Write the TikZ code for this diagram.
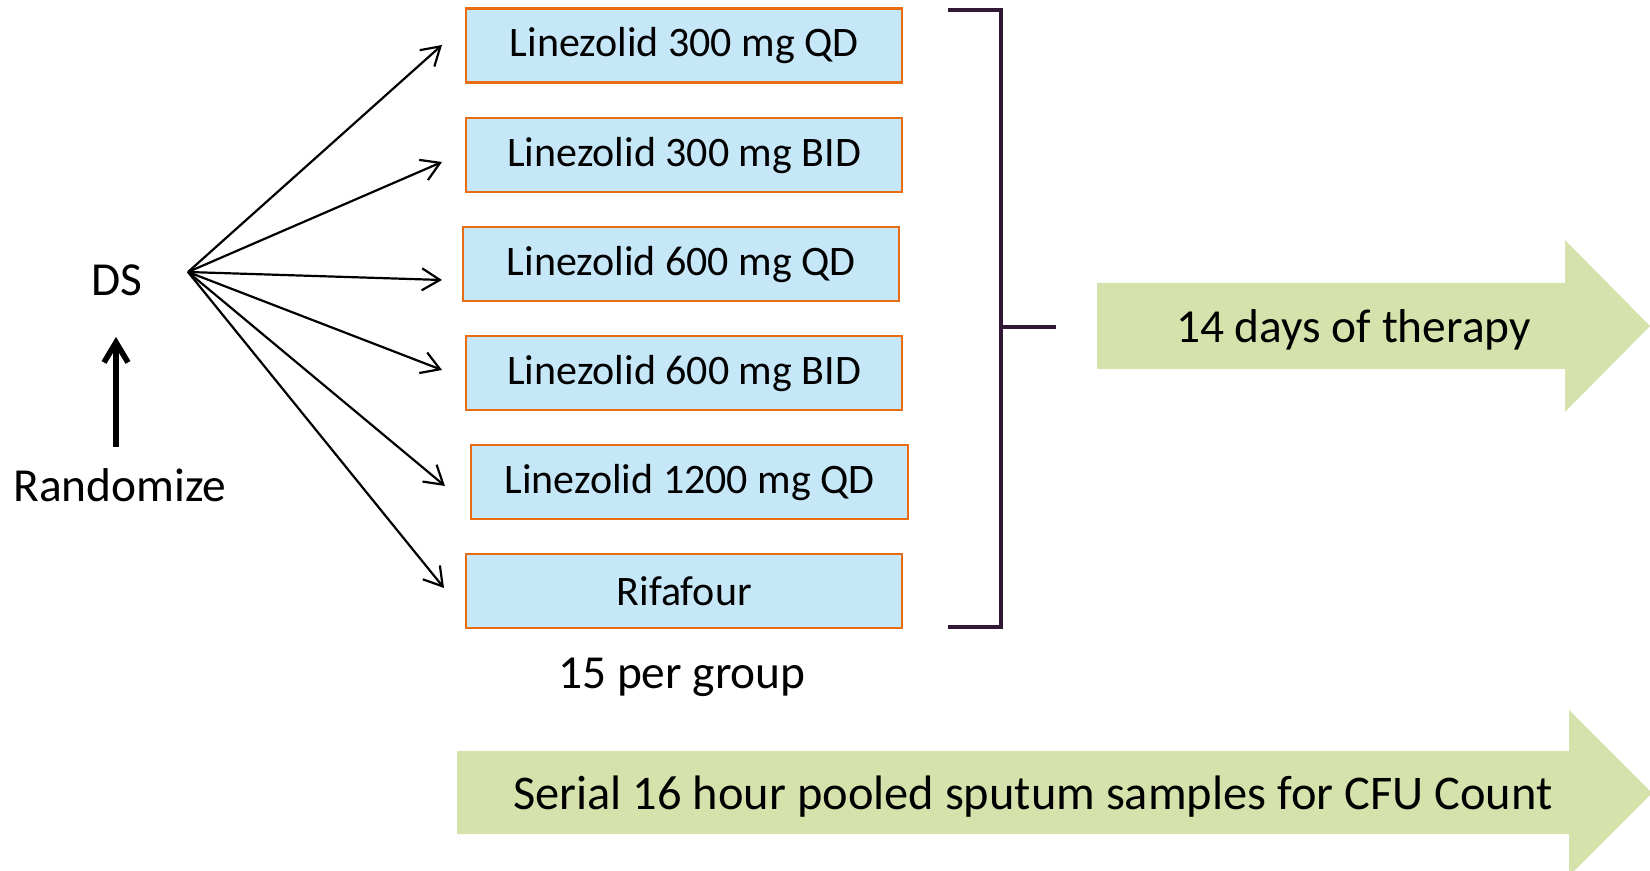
\documentclass[tikz,border=0pt]{standalone}
\usepackage{fontspec}
\setmainfont{Carlito}
\usetikzlibrary{arrows.meta,calc}
\definecolor{boxfill}{RGB}{198,231,248}
\definecolor{boxline}{RGB}{232,108,20}
\definecolor{arrowgreen}{RGB}{214,226,172}
\definecolor{brackcol}{RGB}{50,24,54}
\tikzset{
  grp/.style={draw=boxline, line width=1.2pt, fill=boxfill, anchor=north west, inner sep=0pt,
    font=\fontsize{21}{25}\selectfont, align=center},
  lbl/.style={font=\fontsize{23.7}{28}\selectfont, inner sep=0pt},
  fan/.style={line width=1.1pt, -{Straight Barb[length=9pt,width=11pt,line width=1.1pt]}},
  upar/.style={line width=2.8pt, -{Straight Barb[length=10pt,width=12pt,line width=2.8pt]}},
  brk/.style={draw=brackcol, line width=1.6pt},
  bigarrow/.style={fill=arrowgreen, draw=none}
}
\begin{document}
\begin{tikzpicture}[x=0.5pt,y=-0.5pt]
\useasboundingbox (0,0) rectangle (1650,871);
% boxes
\node[grp, minimum width=218pt, minimum height=37pt] (b1) at (465,7.5) {Linezolid 300 mg QD};
\node[grp, minimum width=218pt, minimum height=37pt] (b2) at (465,117) {Linezolid 300 mg BID};
\node[grp, minimum width=218pt, minimum height=37pt] (b3) at (462,226) {Linezolid 600 mg QD};
\node[grp, minimum width=218pt, minimum height=37pt] (b4) at (465,335) {Linezolid 600 mg BID};
\node[grp, minimum width=218.5pt, minimum height=37pt] (b5) at (470,444) {Linezolid 1200 mg QD};
\node[grp, minimum width=218pt, minimum height=37pt] (b6) at (465,553) {Rifafour};
\node[lbl, anchor=base] (grp) at (682,688) {15 per group};
% left labels
\node[lbl, anchor=base] (ds) at (116.5,296) {DS};
\node[lbl, anchor=base] (rnd) at (120,502) {Randomize};
\coordinate (ua1) at (116,447);
\coordinate (ua2) at (116,337);
\draw[upar] (ua1) -- (ua2);
% fan
\coordinate (o) at (188,272);
\coordinate (t1) at (442,45);
\coordinate (t2) at (442,162);
\coordinate (t3) at (442,280);
\coordinate (t4) at (442,370);
\coordinate (t5) at (445,486);
\coordinate (t6) at (444,588);
\foreach \i in {1,...,6} \draw[fan] (o) -- (t\i);
% bracket
\coordinate (k1) at (948,10);
\coordinate (k2) at (1001,627);
\coordinate (k3) at (948,627);
\coordinate (km) at (1001,327);
\coordinate (kt) at (1056,327);
\draw[brk] (k1) -| (k2) -- (k3);
\draw[brk] (km) -- (kt);
% big arrows
\fill[bigarrow] (1097,283) -- (1565,283) -- (1565,240) -- (1650,326) -- (1565,412) -- (1565,369) -- (1097,369) -- cycle;
\node[lbl, anchor=base] (therapy) at (1353.5,342.5) {14 days of therapy};
\fill[bigarrow] (457,751) -- (1569,751) -- (1569,710) -- (1652,793) -- (1569,876) -- (1569,834) -- (457,834) -- cycle;
\node[lbl, anchor=base, font=\fontsize{24.2}{29}\selectfont] (sputum) at (1033,809) {Serial 16 hour pooled sputum samples for CFU Count};
\end{tikzpicture}
\end{document}
